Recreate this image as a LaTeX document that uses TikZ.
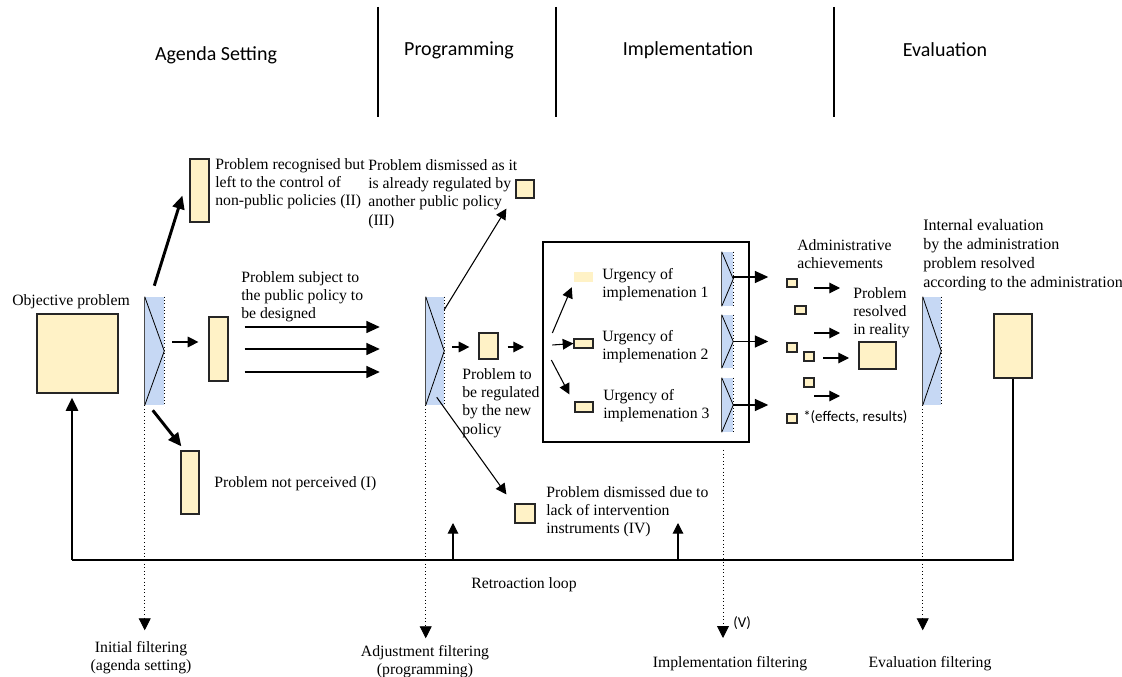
\documentclass[tikz,border=0pt]{standalone}
\usepackage{fontspec}
\setmainfont{Liberation Serif}
\newfontfamily\hdfont{Carlito}
\usetikzlibrary{arrows.meta,fit,calc}
\definecolor{yel}{HTML}{FFF2C6}
\definecolor{blu}{HTML}{C6D8F4}
\newcommand\txtfnt{\fontsize{11.8pt}{13.8pt}\selectfont}
\newcommand\filterbox[5]{%
  \node[fill=blu,inner sep=0pt,fit={(#2,#3)(#4,#5)}] (#1) {};
  \draw[line width=0.6pt] (#1.north west) -- (#1.east) -- (#1.south west);
  \draw[line width=0.4pt,black!70] (#1.north west) -- (#1.south west);
  \draw[dotted,line width=0.5pt] (#1.north east) -- (#1.south east);
}
\begin{document}
\begin{tikzpicture}[x=0.75pt,y=-0.75pt,
  ybox/.style={draw=black!85,fill=yel,line width=0.9pt,inner sep=0pt,fit={#1}},
  ybare/.style={fill=yel,inner sep=0pt,fit={#1}},
  arr/.style={-{Triangle[length=8pt,width=8pt]},line width=0.8pt},
  larr/.style={-{Triangle[length=10pt,width=9pt]},line width=0.9pt},
  tarr/.style={-{Triangle[length=10pt,width=9pt]},line width=2.2pt},
  darr/.style={dotted,line width=0.7pt,-{Triangle[length=9pt,width=9pt]}},
  txt/.style={font=\txtfnt,align=left,inner sep=0pt},
  ctxt/.style={font=\txtfnt,align=center,inner sep=0pt},
  hd/.style={font=\hdfont\fontsize{15pt}{18pt}\selectfont,inner sep=0pt},
  sf/.style={font=\hdfont\fontsize{11.2pt}{13pt}\selectfont,inner sep=0pt}]
\useasboundingbox (0,0) rectangle (1122,677);

% header
\node[hd] (hA) at (216,55) {Agenda Setting};
\node[hd] (hP) at (459,50) {Programming};
\node[hd] (hI) at (688,50) {Implementation};
\node[hd] (hE) at (945,50) {Evaluation};
\coordinate (l1t) at (378,7); \coordinate (l1b) at (378,117);
\coordinate (l2t) at (556,7); \coordinate (l2b) at (556,117);
\coordinate (l3t) at (834,7); \coordinate (l3b) at (834,117);
\draw[line width=0.8pt] (l1t) -- (l1b);
\draw[line width=0.8pt] (l2t) -- (l2b);
\draw[line width=0.8pt] (l3t) -- (l3b);

% boxes
\node[ybox={(37,314)(118,393)}] (obj) {};
\node[ybox={(190,159)(209,222)}] (bII) {};
\node[ybox={(181,451)(199,514)}] (bI) {};
\node[ybox={(209,317)(228,381)}] (pb) {};
\node[ybox={(516,180)(534,198)}] (bIII) {};
\node[ybox={(515,504)(535,523)}] (bIV) {};
\node[ybox={(479,333)(498,359)}] (pr) {};
\node[draw,line width=1pt,inner sep=0pt,fit={(543,242)(749,442)}] (frame) {};
\node[ybare={(574,272)(593,282)}] (u1) {};
\node[ybox={(574,339)(593,348)}] (u2) {};
\node[ybox={(575,402)(593,412)}] (u3) {};
\node[ybox={(787,279)(797,287)}] (s1) {};
\node[ybox={(795,306)(806,314)}] (s2) {};
\node[ybox={(787,343)(797,352)}] (s3) {};
\node[ybox={(804,352)(814,361)}] (s4) {};
\node[ybox={(804,378)(814,387)}] (s5) {};
\node[ybox={(787,414)(797,423)}] (s6) {};
\node[ybox={(859,342)(896,369)}] (res) {};
\node[ybox={(994,314)(1032,378)}] (rbox) {};

% filters
\filterbox{f1}{145}{297}{164}{405}
\filterbox{f2}{426}{297}{444}{405}
\filterbox{g1}{722}{252}{733}{306}
\filterbox{g2}{722}{315}{733}{368}
\filterbox{g3}{722}{378}{733}{432}
\filterbox{f3}{923}{297}{941}{405}

% texts
\node[txt,anchor=base west] (tobj) at (12,306) {Objective problem};
\node[txt,anchor=north west] (tII) at (215,158) {Problem recognised but\\left to the control of\\non-public policies (II)};
\node[txt,anchor=north west] (tIII) at (368,159) {Problem dismissed as it\\is already regulated by\\another public policy\\(III)};
\node[txt,anchor=north west] (tsub) at (241,271) {Problem subject to\\the public policy to\\be designed};
\node[txt,anchor=north west] (treg) at (462,368) {Problem to\\be regulated\\by the new\\policy};
\node[txt,anchor=base west] (tI) at (214,488) {Problem not perceived (I)};
\node[txt,anchor=north west] (tIV) at (546,486) {Problem dismissed due to\\lack of intervention\\instruments (IV)};
\node[txt,anchor=north west] (tu1) at (602,268) {Urgency of\\implemenation 1};
\node[txt,anchor=north west] (tu2) at (602,330) {Urgency of\\implemenation 2};
\node[txt,anchor=north west] (tu3) at (603,389) {Urgency of\\implemenation 3};
\node[txt,anchor=north west] (tadm) at (797,239) {Administrative\\achievements};
\node[txt,anchor=north west] (tres) at (853,287) {Problem\\resolved\\in reality};
\node[txt,anchor=north west,font=\fontsize{12pt}{14.2pt}\selectfont] (tint) at (923,219) {Internal evaluation\\by the administration\\problem resolved\\according to the administration};
\node[sf,anchor=base west] (teff) at (803,422) {*(effects, results)};
\node[sf,anchor=base west] (tV) at (733,627) {(V)};
\node[ctxt,anchor=base] (tret) at (524,588) {Retroaction loop};
\node[ctxt,anchor=north] (tfi) at (141,641) {Initial filtering\\(agenda setting)};
\node[ctxt,anchor=north] (tfa) at (425,645) {Adjustment filtering\\(programming)};
\node[ctxt,anchor=base] (tfm) at (730,667) {Implementation filtering};
\node[ctxt,anchor=base] (tfe) at (930,667) {Evaluation filtering};

% connectors
\draw[tarr] ($(f1.north east)+(-10,-11)$) -- ($(bII.south west)+(-7,-27)$);
\draw[tarr] ($(f1.south west)+(8,5)$) -- ($(bI.north west)+(1,-4)$);
\draw[arr] ($(f1.east)+(8,-9)$) -- ($(pb.west)+(-10,-7)$);
\draw[larr] ($(pb.east)+(16,-22)$) -- ($(f2.west)+(-46,-24)$);
\draw[larr] ($(pb.east)+(16,0)$) -- ($(f2.west)+(-46,-2)$);
\draw[larr] ($(pb.east)+(16,23)$) -- ($(f2.west)+(-46,21)$);
\draw[arr] ($(f2.north east)+(0,13)$) -- ($(bIII.south west)+(-9,10)$);
\draw[arr] ($(f2.south west)+(11,-8)$) -- ($(bIV.north west)+(-8,-9)$);
\draw[arr] ($(f2.east)+(8,-4)$) -- ($(pr.west)+(-9,1)$);
\coordinate (prend) at (524,347);
\draw[arr] ($(pr.east)+(9,1)$) -- (prend);
\draw[arr] ($(frame.west)+(10,-9)$) -- ($(u1.south west)+(-2,5)$);
\draw[arr] ($(frame.west)+(10,3)$) -- (u2.west);
\draw[arr] ($(frame.west)+(9,18)$) -- ($(u3.north west)+(-5,-7)$);
\draw[larr] ([yshift=1.5pt]g1.east) -- ++(35,0);
\draw[larr] (g2.east) -- ++(35,0);
\draw[larr] (g3.east) -- ++(35,0);
\coordinate (a1) at (814,288); \coordinate (a1e) at (840,288);
\coordinate (a2) at (814,333); \coordinate (a2e) at (840,333);
\coordinate (a3) at (823,358); \coordinate (a3e) at (849,358);
\coordinate (a4) at (814,396); \coordinate (a4e) at (840,396);
\draw[arr] (a1) -- (a1e);
\draw[arr] (a2) -- (a2e);
\draw[arr] (a3) -- (a3e);
\draw[arr] (a4) -- (a4e);

% filtering dotted arrows
\draw[darr] (f1.south west) -- ++(0,225);
\draw[darr] (f2.south west) -- ++(0,233);
\coordinate (imt) at (723,450);
\draw[darr] (imt) -- ++(0,188);
\draw[darr] (f3.south west) -- ++(0,225);

% retroaction loop
\coordinate (rl) at (72,560);
\draw[line width=1.1pt] (rbox.south) -- (rbox.south |- rl) -- (rl);
\draw[tarr,shorten >=3pt] (rl) -- (rl |- obj.south);
\coordinate (ua) at (453,560);
\coordinate (ub) at (678,560);
\draw[arr] (ua) -- ++(0,-37);
\draw[arr] (ub) -- ++(0,-37);
\end{tikzpicture}
\end{document}
